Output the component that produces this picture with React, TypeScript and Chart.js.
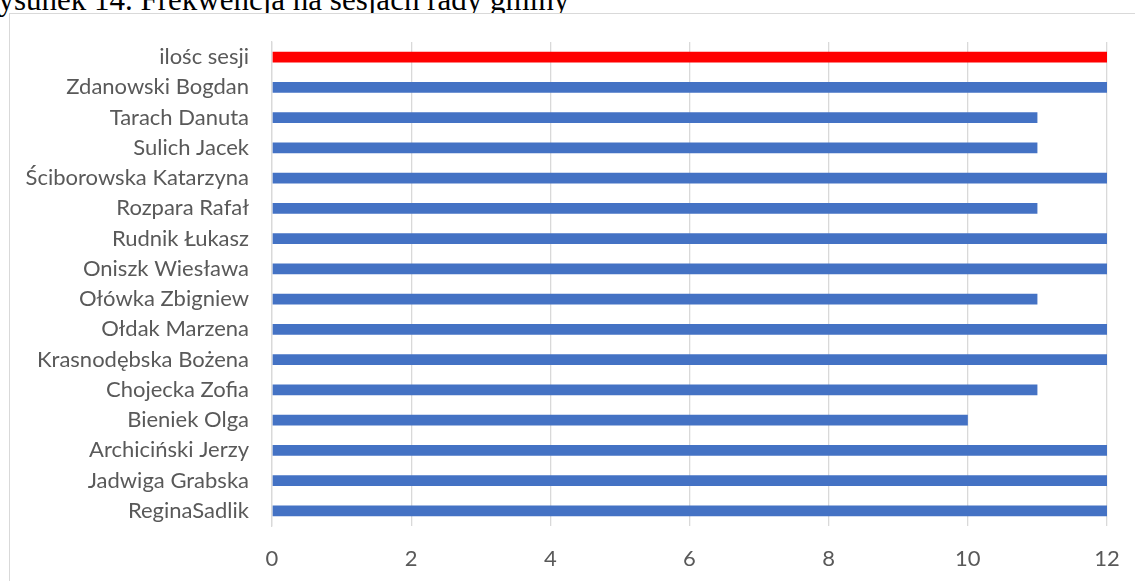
import React, { useEffect, useRef } from "react";
import { Chart, registerables } from "chart.js";

Chart.register(...registerables);

const titleText = "Rysunek 14. Frekwencja na sesjach rady gminy";

const categories = [
  "ilośc sesji",
  "Zdanowski Bogdan",
  "Tarach Danuta",
  "Sulich Jacek",
  "Ściborowska Katarzyna",
  "Rozpara Rafał",
  "Rudnik Łukasz",
  "Oniszk Wiesława",
  "Ołówka Zbigniew",
  "Ołdak Marzena",
  "Krasnodębska Bożena",
  "Chojecka Zofia",
  "Bieniek Olga",
  "Archiciński Jerzy",
  "Jadwiga Grabska",
  "ReginaSadlik",
];

const attendance = [12, 12, 11, 11, 12, 11, 12, 12, 11, 12, 12, 11, 10, 12, 12, 12];

const xTicks = [0, 2, 4, 6, 8, 10, 12];

const barColors = categories.map((_, i) => (i === 0 ? "#FF0000" : "#4472C4"));

export default function App() {
  const canvasRef = useRef<HTMLCanvasElement | null>(null);

  useEffect(() => {
    document.body.style.margin = "0";
    const canvas = canvasRef.current;
    if (!canvas) return;
    const chart = new Chart(canvas, {
      type: "bar",
      data: {
        labels: categories,
        datasets: [
          {
            label: "Frekwencja",
            data: attendance,
            backgroundColor: barColors,
            borderWidth: 0,
            categoryPercentage: 1,
            barPercentage: 0.353,
          },
        ],
      },
      options: {
        indexAxis: "y",
        responsive: false,
        animation: false,
        layout: { padding: { top: 42, right: 28, left: 0, bottom: 0 } },
        plugins: {
          legend: { display: false },
          tooltip: { enabled: false },
          title: { display: false },
        },
        scales: {
          x: {
            min: 0,
            max: 12,
            afterBuildTicks: (scale: any) => {
              scale.ticks = xTicks.map((v) => ({ value: v }));
            },
            afterFit: (scale: any) => {
              scale.height = 55;
              scale.paddingLeft = 0;
              scale.paddingRight = 0;
            },
            grid: {
              color: "#d9d9d9",
              lineWidth: 1.3,
              drawTicks: false,
            },
            border: { display: false },
            ticks: {
              padding: 20,
              color: "#595959",
              font: { family: "Lato", size: 22 },
            },
          },
          y: {
            afterFit: (scale: any) => {
              scale.width = 272;
              scale.paddingTop = 0;
              scale.paddingBottom = 0;
            },
            grid: { display: false, drawTicks: false },
            border: { display: true, color: "#d9d9d9", width: 1.3 },
            ticks: {
              autoSkip: false,
              padding: 23,
              color: "#595959",
              font: { family: "Lato", size: 22 },
            },
          },
        },
      },
    });
    return () => chart.destroy();
  }, []);

  return (
    <div style={{ position: "fixed", left: 0, top: 0, width: 1135, height: 581, overflow: "hidden", background: "#fff" }}>
      <div
        style={{
          position: "absolute",
          left: -21,
          top: -16,
          fontFamily: "'Liberation Serif', 'Times New Roman', serif",
          fontSize: 31,
          lineHeight: "31px",
          whiteSpace: "nowrap",
          color: "#000",
        }}
      >
        {titleText}
      </div>
      <div
        style={{
          position: "absolute",
          left: 9,
          top: 13,
          width: 1300,
          height: 800,
          border: "1px solid #d9d9d9",
          background: "#fff",
        }}
      />
      <canvas
        ref={canvasRef}
        width={1135}
        height={581}
        style={{ position: "absolute", left: 0, top: 0, width: 1135, height: 581 }}
      />
    </div>
  );
}
